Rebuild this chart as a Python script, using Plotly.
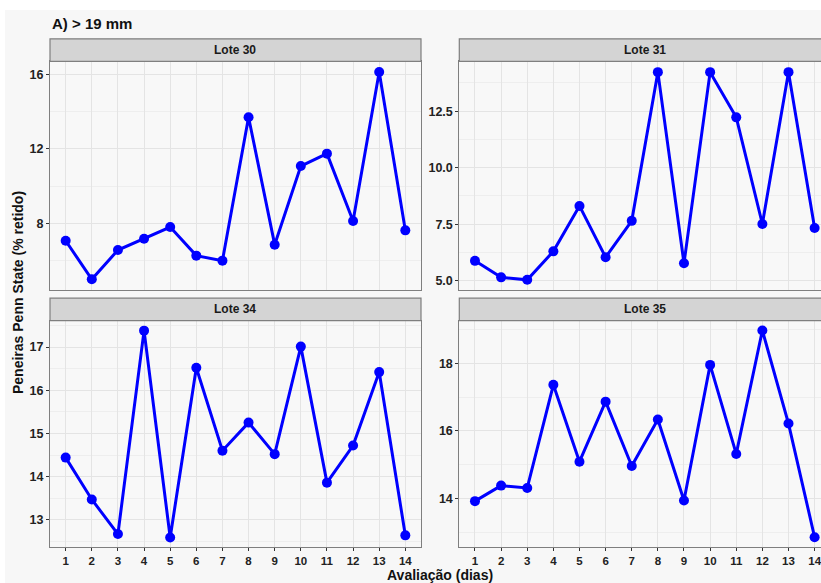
import plotly.graph_objects as go

W, H = 821, 583

dias = list(range(1, 15))
lote30 = [7.06, 4.99, 6.56, 7.17, 7.80, 6.26, 5.99, 13.71, 6.85, 11.08, 11.75, 8.12, 16.14, 7.62]
lote31 = [5.88, 5.15, 5.04, 6.30, 8.31, 6.04, 7.65, 14.23, 5.77, 14.23, 12.23, 7.51, 14.23, 7.33]
lote34 = [14.44, 13.47, 12.67, 17.38, 12.59, 16.52, 14.60, 15.25, 14.52, 17.01, 13.86, 14.72, 16.42, 12.64]
lote35 = [13.92, 14.38, 14.31, 17.37, 15.09, 16.87, 14.96, 16.34, 13.94, 17.96, 15.32, 18.98, 16.22, 12.85]

panel_names = ["Lote 30", "Lote 31", "Lote 34", "Lote 35"]
series = [lote30, lote31, lote34, lote35]

title_text = "A) > 19 mm"
ytitle = "Peneiras Penn State (% retido)"
xtitle = "Avaliação (dias)"


def px(x):
    return x / W


def py(y):
    return 1 - y / H


# panel geometry in pixels (left, right, top, bottom)
L1, R1 = 50, 421
L2, R2 = 459.3, 821
TOP1, BOT1 = 61.3, 290
TOP2, BOT2 = 320.7, 547
STRIP_H = 22.5

unit = (R1 - L1) / 14.2
xr_left = [0.4, 14.6]
xr_right = [0.4, 0.4 + (R2 - L2) / unit]

yranges = [[4.41, 16.72], [4.59, 14.71], [12.37, 17.61], [12.56, 19.27]]
ydticks = [4, 2.5, 1, 2]
ytick0 = [0, 0, 0, 0]

fig = go.Figure()

BLUE = "#0000FF"
for i, vals in enumerate(series):
    ax = "" if i == 0 else str(i + 1)
    fig.add_trace(go.Scatter(
        x=dias, y=vals, mode="lines+markers",
        line=dict(color=BLUE, width=3),
        marker=dict(color=BLUE, size=10),
        xaxis="x" + ax, yaxis="y" + ax, showlegend=False,
        cliponaxis=False,
    ))

panel_bg = "#F8F8F8"
grid_major = "#E4E4E4"
grid_minor = "#EEEEEE"
border = "#7F7F7F"
FONT = "Liberation Sans, Arial, sans-serif"
xtickfont = dict(family=FONT, size=11.5, color="#222222", weight="bold")
ytickfont = dict(family=FONT, size=12.5, color="#222222", weight="bold")

layout = dict(
    width=W, height=H,
    margin=dict(l=0, r=0, t=0, b=0),
    paper_bgcolor="#F7F7F7",
    plot_bgcolor=panel_bg,
    showlegend=False,
)

geoms = [
    (L1, R1, TOP1, BOT1, xr_left, False),
    (L2, R2, TOP1, BOT1, xr_right, True),
    (L1, R1, TOP2, BOT2, xr_left, False),
    (L2, R2, TOP2, BOT2, xr_right, True),
]

shapes = [
    dict(type="rect", xref="paper", yref="paper", x0=0, x1=1, y0=py(10), y1=1,
         fillcolor="white", line=dict(width=0), layer="below"),
    dict(type="rect", xref="paper", yref="paper", x0=0, x1=px(5), y0=0, y1=1,
         fillcolor="white", line=dict(width=0), layer="below"),
]
annotations = []

for i, (l, r, t, b, xr, right) in enumerate(geoms):
    ax = "" if i == 0 else str(i + 1)
    bottom_row = i >= 2
    layout["xaxis" + ax] = dict(
        domain=[px(l), min(px(r), 1.0)], range=xr, anchor="y" + ax,
        tickmode="array", tickvals=dias, ticktext=[str(d) for d in dias],
        showgrid=True, gridcolor=grid_major, gridwidth=1,
        zeroline=False,
        showline=True, mirror=True, linecolor=border, linewidth=1,
        ticks="outside" if bottom_row else "", ticklen=3, tickcolor="#333333",
        showticklabels=bottom_row, tickfont=xtickfont,
        ticklabeloverflow="allow",
    )
    layout["yaxis" + ax] = dict(
        domain=[py(b), py(t)], range=yranges[i], anchor="x" + ax,
        tick0=ytick0[i], dtick=ydticks[i],
        tickformat=".1f" if i == 1 else "d",
        showgrid=True, gridcolor=grid_major, gridwidth=1,
        minor=dict(dtick=ydticks[i] / 2, tick0=ytick0[i], showgrid=True,
                   gridcolor=grid_minor, gridwidth=0.6),
        zeroline=False,
        showline=True, mirror=not right, linecolor=border, linewidth=1,
        ticks="outside", ticklen=3, tickcolor="#333333",
        tickfont=ytickfont,
    )
    # strip
    x1s = 1.01 if right else px(r)
    shapes.append(dict(type="rect", xref="paper", yref="paper",
                       x0=px(l), x1=x1s, y0=py(t), y1=py(t - STRIP_H),
                       fillcolor="#D4D4D4", line=dict(color=border, width=1.2)))
    full_r = r if not right else l + (R1 - L1)
    annotations.append(dict(
        x=px((l + full_r) / 2), y=py(t - STRIP_H / 2), xref="paper", yref="paper",
        text=panel_names[i], showarrow=False, xanchor="center", yanchor="middle",
        font=dict(family=FONT, size=12, color="#1A1A1A", weight="bold"),
    ))

annotations.append(dict(
    x=px(50), y=py(23), xref="paper", yref="paper", text=title_text,
    showarrow=False, xanchor="left", yanchor="middle",
    font=dict(family=FONT, size=15, color="#111111", weight="bold"),
))
annotations.append(dict(
    x=px(18), y=py(293), xref="paper", yref="paper", text=ytitle, textangle=-90,
    showarrow=False, xanchor="center", yanchor="middle",
    font=dict(family=FONT, size=14, color="#111111", weight="bold"),
))
annotations.append(dict(
    x=px(440), y=py(575), xref="paper", yref="paper", text=xtitle,
    showarrow=False, xanchor="center", yanchor="middle",
    font=dict(family=FONT, size=14, color="#111111", weight="bold"),
))

layout["shapes"] = shapes
layout["annotations"] = annotations
fig.update_layout(**layout)

fig.write_html(
    "out.html",
    config={"displayModeBar": False},
    post_script="document.body.style.margin='0';document.body.style.overflow='hidden';",
)
